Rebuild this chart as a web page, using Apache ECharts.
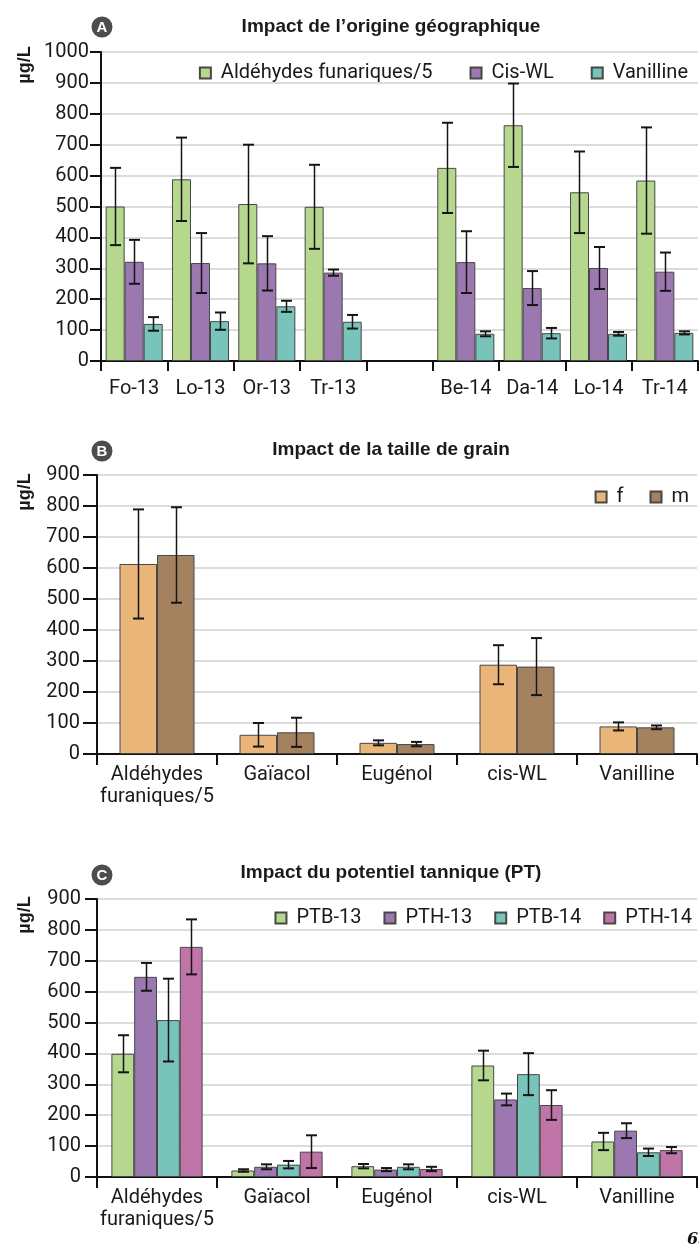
<!DOCTYPE html>
<html>
<head>
<meta charset="utf-8">
<script src="https://cdn.jsdelivr.net/npm/echarts@6/dist/echarts.min.js"></script>
<style>html,body{margin:0;padding:0;background:#fff}#c{width:699px;height:1250px}</style>
</head>
<body>
<div id="c"></div>
<script>
// ---------- Panel A : origine géographique ----------
const catsA = ['Fo-13','Lo-13','Or-13','Tr-13','','Be-14','Da-14','Lo-14','Tr-14'];
const aldA    = [500, 588, 508, 499, null, 625, 763, 546, 584];
const aldAErr = [125, 135, 192, 136, null, 146, 135, 132, 172];
const cisA    = [321, 317, 316, 286, null, 320, 236, 301, 289];
const cisAErr = [ 71,  97,  88,  10, null, 100,  55,  68,  62];
const vanA    = [120, 129, 177, 127, null,  88,  90,  88,  91];
const vanAErr = [ 22,  28,  18,  22, null,   8,  17,   6,   5];
const ticksA  = [0,100,200,300,400,500,600,700,800,900,1000];

// ---------- Panel B : taille de grain ----------
const catsB = ['Aldéhydes\nfuraniques/5','Gaïacol','Eugénol','cis-WL','Vanilline'];
const fB    = [613, 62, 36, 288, 89];
const fBErr = [176, 38,  8,  63, 13];
const mB    = [642, 70, 32, 282, 86];
const mBErr = [154, 47,  7,  92,  6];
const ticksB = [0,100,200,300,400,500,600,700,800,900];

// ---------- Panel C : potentiel tannique ----------
const catsC = ['Aldéhydes\nfuraniques/5','Gaïacol','Eugénol','cis-WL','Vanilline'];
const ptb13    = [399, 21, 35, 361, 115];
const ptb13Err = [ 60,  4,  7,  48,  28];
const pth13    = [648, 33, 24, 251, 150];
const pth13Err = [ 45,  8,  5,  19,  24];
const ptb14    = [508, 40, 33, 333,  80];
const ptb14Err = [134, 12,  8,  68,  12];
const pth14    = [745, 82, 26, 233,  87];
const pth14Err = [ 89, 53,  7,  48,  10];
const ticksC = [0,100,200,300,400,500,600,700,800,900];

const FONT = 'Roboto';
const TXT = '#1a1a1a';
const C = {green:'#b6d78e', purple:'#9b78b0', teal:'#78c3ba', orange:'#eab578', brown:'#a4825f', pink:'#c075a9'};

function bar(name, data, color, gi, gap){
  return {name, type:'bar', xAxisIndex:gi, yAxisIndex:gi, data: data.map(v=>v==null?'-':v),
    barGap:'0%', barCategoryGap:gap, z:2,
    itemStyle:{color, borderColor:'#474747', borderWidth:1}};
}
function err(vals, errs, gi, idx, n, gapPct){
  const d=[];
  vals.forEach((v,i)=>{ if(v!=null) d.push([i, v-errs[i], v+errs[i]]); });
  return {type:'custom', xAxisIndex:gi, yAxisIndex:gi, z:10, silent:true,
    encode:{x:0, y:[1,2]}, data:d,
    renderItem:(params, api)=>{
      const cat=api.value(0);
      const lo=api.coord([cat, api.value(1)]);
      const hi=api.coord([cat, api.value(2)]);
      const cw=api.size([1,0])[0];
      const used=cw*(1-gapPct);
      const bw=used/n;
      const x=Math.round(lo[0]-used/2+bw*(idx+0.5))+0.5;
      const h=5.5;
      const st={stroke:'#151515', lineWidth:1.5};
      return {type:'group', children:[
        {type:'line', shape:{x1:x,y1:hi[1],x2:x,y2:lo[1]}, style:st},
        {type:'line', shape:{x1:x-h,y1:hi[1],x2:x+h,y2:hi[1]}, style:{stroke:'#151515', lineWidth:2}},
        {type:'line', shape:{x1:x-h,y1:lo[1],x2:x+h,y2:lo[1]}, style:{stroke:'#151515', lineWidth:2}}
      ]};
    }};
}
function xAx(gi, cats, margin, tickLen){
  return {type:'category', gridIndex:gi, data:cats,
    axisLine:{show:true, lineStyle:{color:'#111', width:2}},
    axisTick:{show:true, length:tickLen, lineStyle:{color:'#111', width:2}, alignWithLabel:false},
    axisLabel:{interval:0, margin, color:TXT, fontFamily:FONT, fontSize:20, lineHeight:22},
    splitLine:{show:false}};
}
function yAx(gi, ticks, margin, tickLen){
  return {type:'value', gridIndex:gi, min:ticks[0], max:ticks[ticks.length-1], interval:ticks[1]-ticks[0],
    axisLine:{show:true, lineStyle:{color:'#111', width:2}},
    axisTick:{show:true, length:tickLen, lineStyle:{color:'#111', width:2}},
    axisLabel:{margin, color:TXT, fontFamily:FONT, fontSize:20, formatter:v=>String(v)},
    splitLine:{show:true, lineStyle:{color:'#d0d0d0', width:1.5}}};
}
function legend(names, top, right, gap){
  return {data:names, top, right, itemGap:gap, itemWidth:11, itemHeight:11, icon:'rect',
    formatter:n=>' '+n, selectedMode:false,
    textStyle:{color:TXT, fontFamily:FONT, fontSize:20}};
}
function titleTxt(text, y){
  return {type:'text', x:391, y:y, style:{text, x:0, y:0, fill:TXT, font:'bold 19px "Liberation Sans"', textAlign:'center', textVerticalAlign:'middle'}};
}
function badge(letter, cy){
  return {type:'group', x:102, y:cy, children:[
    {type:'circle', shape:{cx:0, cy:0, r:10.5}, style:{fill:'#4d4d4d'}},
    {type:'text', style:{text:letter, x:0, y:1, fill:'#fff', font:'bold 15px "Liberation Sans"', textAlign:'center', textVerticalAlign:'middle'}}
  ]};
}
function unit(cy){
  return {type:'text', x:25, y:cy, rotation:Math.PI/2, style:{text:'µg/L', x:0, y:0, fill:TXT, font:'bold 18px "Liberation Sans"', textAlign:'center', textVerticalAlign:'middle'}};
}

const chart = echarts.init(document.getElementById('c'), null, {renderer:'canvas'});
chart.setOption({
  animation:false,
  backgroundColor:'#fff',
  grid:[
    {left:101, top:52, width:597, height:309},
    {left:97, top:475, width:600, height:279},
    {left:97, top:899, width:600, height:278}
  ],
  xAxis:[ xAx(0, catsA, 17, 10), xAx(1, catsB, 10, 11), xAx(2, catsC, 10, 11) ],
  yAxis:[ yAx(0, ticksA, 12, 11), yAx(1, ticksB, 17, 14), yAx(2, ticksC, 16, 12) ],
  legend:[
    legend(['Aldéhydes funariques/5','Cis-WL','Vanilline'], 58, 6, 37),
    legend(['f','m'], 482, 5, 26),
    legend(['PTB-13','PTH-13','PTB-14','PTH-14'], 903, 2, 22)
  ],
  graphic:[
    titleTxt('Impact de l\u2019origine géographique', 27),
    titleTxt('Impact de la taille de grain', 450),
    titleTxt('Impact du potentiel tannique (PT)', 873),
    badge('A', 27), badge('B', 451), badge('C', 875),
    unit(65), unit(492), unit(915),
    {type:'text', x:687, y:1240, style:{text:'65', x:0, y:0, fill:'#111', font:'italic bold 16px "DejaVu Serif"', textVerticalAlign:'middle'}}
  ],
  series:[
    bar('Aldéhydes funariques/5', aldA, C.green, 0, '14%'),
    bar('Cis-WL', cisA, C.purple, 0, '14%'),
    bar('Vanilline', vanA, C.teal, 0, '14%'),
    err(aldA, aldAErr, 0, 0, 3, 0.14),
    err(cisA, cisAErr, 0, 1, 3, 0.14),
    err(vanA, vanAErr, 0, 2, 3, 0.14),

    bar('f', fB, C.orange, 1, '37.5%'),
    bar('m', mB, C.brown, 1, '37.5%'),
    err(fB, fBErr, 1, 0, 2, 0.375),
    err(mB, mBErr, 1, 1, 2, 0.375),

    bar('PTB-13', ptb13, C.green, 2, '24%'),
    bar('PTH-13', pth13, C.purple, 2, '24%'),
    bar('PTB-14', ptb14, C.teal, 2, '24%'),
    bar('PTH-14', pth14, C.pink, 2, '24%'),
    err(ptb13, ptb13Err, 2, 0, 4, 0.24),
    err(pth13, pth13Err, 2, 1, 4, 0.24),
    err(ptb14, ptb14Err, 2, 2, 4, 0.24),
    err(pth14, pth14Err, 2, 3, 4, 0.24)
  ]
});
</script>
</body>
</html>
